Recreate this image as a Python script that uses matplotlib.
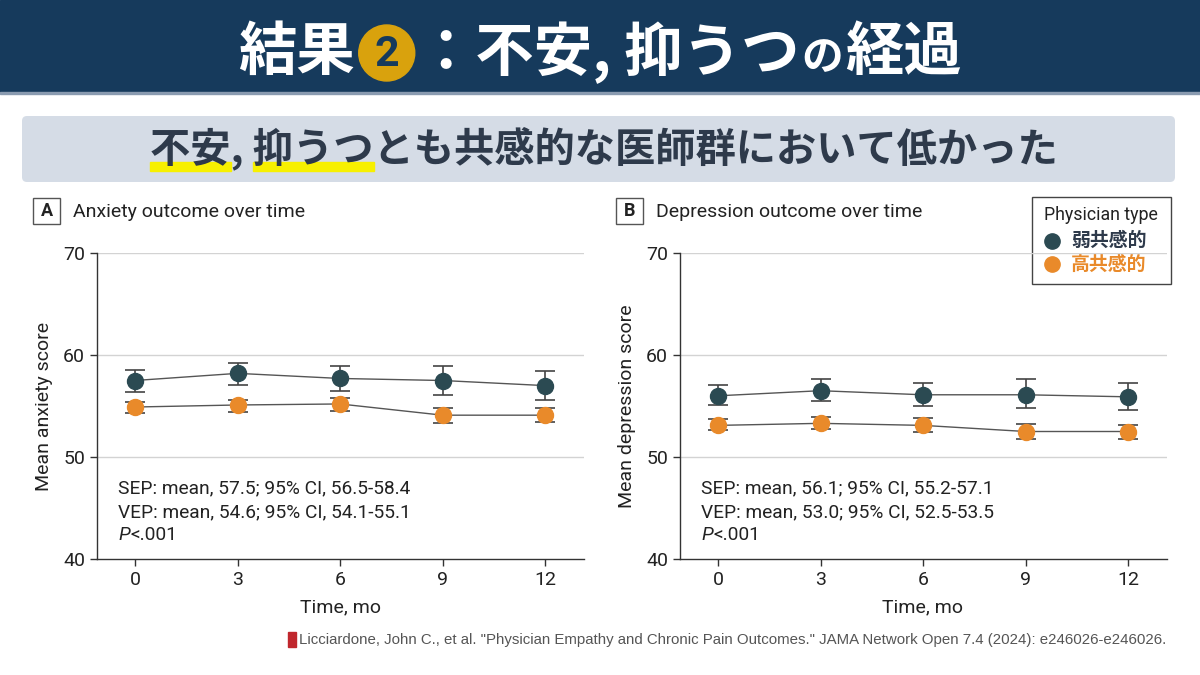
import matplotlib
matplotlib.use("Agg")
import matplotlib.pyplot as plt
from matplotlib.patches import Rectangle, Circle, FancyBboxPatch
from matplotlib.lines import Line2D

# データ
months = [0, 3, 6, 9, 12]

anx_low = [57.5, 58.2, 57.7, 57.5, 57.0]
anx_low_lo = [56.4, 57.1, 56.5, 56.1, 55.6]
anx_low_hi = [58.5, 59.2, 58.9, 58.9, 58.4]
anx_high = [54.9, 55.1, 55.2, 54.1, 54.1]
anx_high_lo = [54.3, 54.4, 54.5, 53.3, 53.4]
anx_high_hi = [55.4, 55.6, 55.8, 54.8, 54.8]

dep_low = [56.0, 56.5, 56.1, 56.1, 55.9]
dep_low_lo = [55.1, 55.5, 55.0, 54.8, 54.6]
dep_low_hi = [57.1, 57.6, 57.3, 57.6, 57.3]
dep_high = [53.1, 53.3, 53.1, 52.5, 52.5]
dep_high_lo = [52.6, 52.7, 52.5, 51.8, 51.8]
dep_high_hi = [53.7, 53.9, 53.8, 53.2, 53.1]

y_ticks = [40, 50, 60, 70]
group_labels = ["弱共感的", "高共感的"]
anx_stats = ["SEP: mean, 57.5; 95% CI, 56.5-58.4", "VEP: mean, 54.6; 95% CI, 54.1-55.1"]
dep_stats = ["SEP: mean, 56.1; 95% CI, 55.2-57.1", "VEP: mean, 53.0; 95% CI, 52.5-53.5"]

# 色
NAVY = "#163a5c"
GOLD = "#d9a20d"
DARK = "#2b4a52"
ORANGE = "#e98a2a"
TXT = "#222222"

CJK = ["Noto Sans CJK JP", "DejaVu Sans"]
LAT = ["Roboto", "Noto Sans CJK JP", "DejaVu Sans"]

fig = plt.figure(figsize=(12, 6.75), dpi=100)
bg = fig.add_axes([0, 0, 1, 1])
bg.set_xlim(0, 1200)
bg.set_ylim(675, 0)
bg.axis("off")
bg.set_zorder(-1)
renderer = fig.canvas.get_renderer()


def text_width(t):
    bb = t.get_window_extent(renderer=renderer)
    return bb.width


# ヘッダー
bg.add_patch(Rectangle((0, 0), 1200, 92, color=NAVY, zorder=0))
bg.add_patch(Rectangle((0, 92), 1200, 2, color="#8a9bb0", zorder=0))

x = 238
ty = 53
t = bg.text(x, ty, "結果", family=CJK, fontsize=42, weight="bold", color="white", va="center", ha="left")
x += text_width(t) + 4
r = 28
bg.add_patch(Circle((x + r, ty), r, color=GOLD, zorder=2))
bg.text(x + r, ty + 1, "2", family=["Roboto"], fontsize=31, weight="bold", color=NAVY,
        va="center", ha="center", zorder=3)
x += 2 * r + 2
t = bg.text(x, ty, "：不安, 抑うつ", family=CJK, fontsize=42, weight="bold", color="white", va="center", ha="left")
x += text_width(t) + 2
t = bg.text(x, ty + 5, "の", family=CJK, fontsize=30, weight="bold", color="white", va="center", ha="left")
x += text_width(t) + 2
bg.text(x, ty, "経過", family=CJK, fontsize=42, weight="bold", color="white", va="center", ha="left")

# サブタイトル
SUB_FS = 29
bg.add_patch(FancyBboxPatch((22, 116), 1153, 66, boxstyle="round,pad=0,rounding_size=5",
                            fc="#d5dce6", ec="none", zorder=0))
sub = "不安, 抑うつとも共感的な医師群において低かった"


def prefix_w(s):
    tt = bg.text(0, 0, s, family=CJK, fontsize=SUB_FS, weight="bold")
    w = text_width(tt)
    tt.remove()
    return w


w_all = prefix_w(sub)
sx = 604 - w_all / 2
w1 = prefix_w("不安")
w2 = prefix_w("不安, ")
w3 = prefix_w("不安, 抑うつ")
bg.add_patch(Rectangle((sx, 162), w1, 9, color="#f7f000", zorder=1))
bg.add_patch(Rectangle((sx + w2, 162), w3 - w2, 9, color="#f7f000", zorder=1))
bg.text(sx, 148, sub, family=CJK, fontsize=SUB_FS, weight="bold", color="#2e3a4b",
        va="center", ha="left", zorder=2)


def panel(left, x0, series, ylabel, letter, title, stats):
    px_per = 34.17
    right = left + 487
    ax = fig.add_axes([left / 1200, 1 - 559 / 675, 487 / 1200, 306 / 675])
    ax.set_xlim(-(x0 - left) / px_per, (right - x0) / px_per)
    ax.set_ylim(40, 70)
    for yv in y_ticks[1:]:
        ax.axhline(yv, color="#d3d3d3", lw=1, zorder=0)
    for (y, lo, hi, col) in series:
        ax.plot(months, y, color="#555555", lw=1, zorder=2)
        yerr = [[a - b for a, b in zip(y, lo)], [b - a for a, b in zip(y, hi)]]
        ax.errorbar(months, y, yerr=yerr, fmt="none", ecolor="#444444", elinewidth=1.2,
                    capsize=7, capthick=1.2, zorder=3)
        ax.plot(months, y, "o", color=col, ms=11.5, zorder=4)
    ax.set_xticks(months)
    ax.set_yticks(y_ticks)
    for s in ["top", "right"]:
        ax.spines[s].set_visible(False)
    for s in ["left", "bottom"]:
        ax.spines[s].set_color("#333333")
        ax.spines[s].set_linewidth(1)
    ax.tick_params(colors="#333333", labelcolor=TXT, labelsize=14, length=5, width=1)
    for lab in ax.get_xticklabels() + ax.get_yticklabels():
        lab.set_family(LAT)
    ax.set_xlabel("Time, mo", family=LAT, fontsize=14, color=TXT)
    ax.xaxis.set_label_coords((205 + x0 - left) / 487, -(598 - 559) / 306)
    ax.set_ylabel(ylabel, family=LAT, fontsize=14, color=TXT)
    ax.yaxis.set_label_coords(-44 / 487, 0.5)
    ax.set_facecolor("none")

    # パネルラベル
    bx = left - 64
    bg.add_patch(Rectangle((bx, 198), 27, 26, fc="white", ec="#555555", lw=1, zorder=1))
    bg.text(bx + 13.5, 211.5, letter, family=LAT, fontsize=13, weight="bold", color=TXT,
            va="center", ha="center", zorder=2)
    bg.text(bx + 40, 212, title, family=LAT, fontsize=14, color=TXT, va="center", ha="left")

    # 統計値
    tx = left + 21
    bg.text(tx, 488, stats[0], family=LAT, fontsize=13.8, color=TXT, va="center", ha="left")
    bg.text(tx, 512, stats[1], family=LAT, fontsize=13.8, color=TXT, va="center", ha="left")
    tp = bg.text(tx, 535, "P", family=LAT, fontsize=13.8, style="italic", color=TXT, va="center", ha="left")
    bg.text(tx + text_width(tp) + 1, 535, "<.001", family=LAT, fontsize=13.8, color=TXT,
            va="center", ha="left")
    return ax


panel(97, 135, [(anx_low, anx_low_lo, anx_low_hi, DARK), (anx_high, anx_high_lo, anx_high_hi, ORANGE)],
      "Mean anxiety score", "A", "Anxiety outcome over time", anx_stats)
panel(680, 718, [(dep_low, dep_low_lo, dep_low_hi, DARK), (dep_high, dep_high_lo, dep_high_hi, ORANGE)],
      "Mean depression score", "B", "Depression outcome over time", dep_stats)

# 凡例
bg.add_patch(Rectangle((1032, 197), 139, 87, fc="white", ec="#444444", lw=1, zorder=5))
bg.text(1101, 215, "Physician type", family=LAT, fontsize=12.8, color=TXT, va="center", ha="center", zorder=6)
bg.add_line(Line2D([1052], [241], marker="o", ms=11, color=DARK, ls="none", zorder=6))
bg.add_line(Line2D([1052], [264], marker="o", ms=11, color=ORANGE, ls="none", zorder=6))
bg.text(1071, 240, group_labels[0], family=CJK, fontsize=13.6, weight="bold", color="#2e3a4b",
        va="center", ha="left", zorder=6)
bg.text(1071, 264, group_labels[1], family=CJK, fontsize=13.6, weight="bold", color=ORANGE,
        va="center", ha="left", zorder=6)

# 出典
bg.add_patch(Rectangle((288, 632), 8, 15, color="#c0272d", zorder=1))
bg.text(299, 640, 'Licciardone, John C., et al. "Physician Empathy and Chronic Pain Outcomes." '
        'JAMA Network Open 7.4 (2024): e246026-e246026.',
        family=["Liberation Sans"], fontsize=10.8, color="#555555", va="center", ha="left")

fig.savefig("out.png", dpi=100)
